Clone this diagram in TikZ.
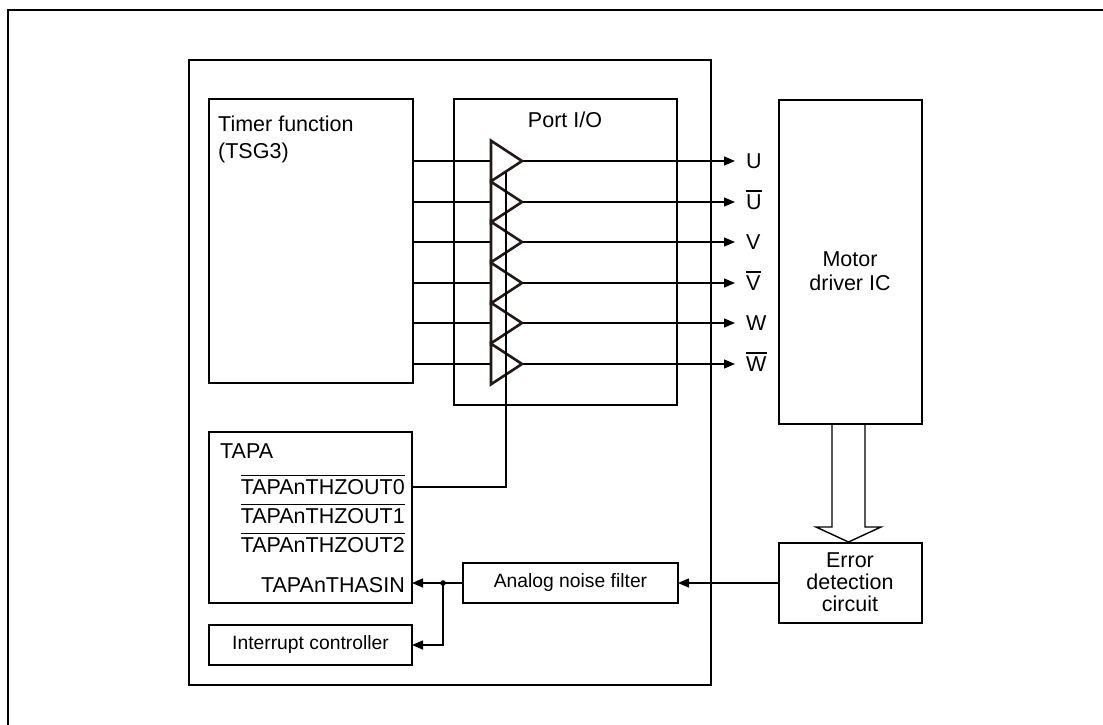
\documentclass[tikz,border=0pt]{standalone}
\usepackage{fontspec}
\setmainfont{Liberation Sans}
\usetikzlibrary{arrows.meta}
\newcommand\ovl[1]{\leavevmode\vbox{\hrule height 1.4pt\kern 3pt\hbox{#1}}}
\definecolor{ink}{HTML}{231815}
\begin{document}
\begin{tikzpicture}[x=1pt,y=-1pt,
  box/.style={draw, line width=2.6pt, inner sep=0pt, outer sep=0pt},
  wire/.style={line width=1.4pt},
  arr/.style={wire, -{Triangle[length=11pt,width=9pt]}},
  mainf/.style={font=\fontsize{21.5}{24}\selectfont},
  smallf/.style={font=\fontsize{19.3}{22}\selectfont},
  tri/.style={draw=ink, line width=2.6pt, line join=miter, fill=white}]
\useasboundingbox (0,0) rectangle (1103,725);
\draw[line width=2.6pt] (8,725) -- (8,10) -- (1103,10);

% boxes
\node[box, minimum width=522pt, minimum height=625pt] (mcu) at (450,372.5) {};
\node[box, minimum width=204pt, minimum height=284pt] (timer) at (311,241) {};
\node[box, minimum width=223pt, minimum height=306pt] (port) at (565.5,252) {};
\node[box, minimum width=143pt, minimum height=324pt] (motor) at (850.5,262) {};
\node[box, minimum width=143pt, minimum height=80pt] (err) at (850.5,583) {};
\node[box, smallf, minimum width=215pt, minimum height=40pt] (filter) at (570.5,583) {Analog noise filter};
\node[box, minimum width=203pt, minimum height=171pt] (tapa) at (310.5,517.5) {};
\node[box, smallf, minimum width=203pt, minimum height=40pt] (intr) at (310.5,645) {Interrupt controller};

% texts
\node[mainf, anchor=base west, inner sep=0pt] (tf1) at (218,131) {Timer function};
\node[mainf, anchor=base west, inner sep=0pt] (tf2) at (218,158) {(TSG3)};
\node[mainf, anchor=base, inner sep=0pt] (pio) at (565,127) {Port I/O};
\node[mainf, anchor=north, inner sep=0pt, align=center] (mtxt) at (850,252) {Motor\\driver IC};
\node[mainf, anchor=north, inner sep=0pt, align=center, font=\fontsize{21.5}{22}\selectfont] (etxt) at (850,553) {Error\\detection\\circuit};
\node[mainf, anchor=base west, inner sep=0pt] (tapal) at (220,458) {TAPA};
\node[mainf, anchor=base east, inner sep=0pt] (z0) at (405,494) {\ovl{TAPAnTHZOUT0}};
\node[mainf, anchor=base east, inner sep=0pt] (z1) at (405,523) {\ovl{TAPAnTHZOUT1}};
\node[mainf, anchor=base east, inner sep=0pt] (z2) at (405,552) {\ovl{TAPAnTHZOUT2}};
\node[mainf, anchor=base east, inner sep=0pt] (asin) at (405,592) {TAPAnTHASIN};

% output labels
\foreach \n/\y/\t in {1/161/U, 2/202/\ovl{U}, 3/242/V, 4/283/\ovl{V}, 5/323/W, 6/364/\ovl{W}} {
  \node[mainf, anchor=base west, inner sep=0pt] (o\n) at (746,\y+7.5) {\t};
  \coordinate (i\n) at (491,\y);
  \coordinate (t\n) at (522,\y);
  \coordinate (e\n) at (735,\y);
}

% enable line
\coordinate (en) at (506,172);
\draw[wire] (tapa.east |- 0,487) -| (en);

% input wires, buffers, outputs
\foreach \n in {1,...,6} {
  \draw[wire] (timer.east |- i\n) -- (i\n);
  \draw[arr] (t\n) -- (e\n);
}
\foreach \y in {161, 202, 242, 283, 323, 364} {
  \draw[tri] (491,\y-20.3) -- (522,\y) -- (491,\y+20.3) -- cycle;
}
% enable line over buffers
\draw[wire] (en) -- (506,400);

% lower connections
\coordinate (dot) at (443,583);
\draw[arr] (err.west) -- (filter.east);
\draw[wire] (filter.west) -- (dot);
\draw[arr] (dot) -- (tapa.east |- dot);
\draw[arr] (dot) |- (intr.east);
\fill (dot) circle (2.8pt);

% hollow wide arrow
\draw[line width=1.4pt, line join=miter] (832,424) -- (832,527) -- (816,527) -- (848.5,542) -- (881,527) -- (865,527) -- (865,424);
\end{tikzpicture}
\end{document}
